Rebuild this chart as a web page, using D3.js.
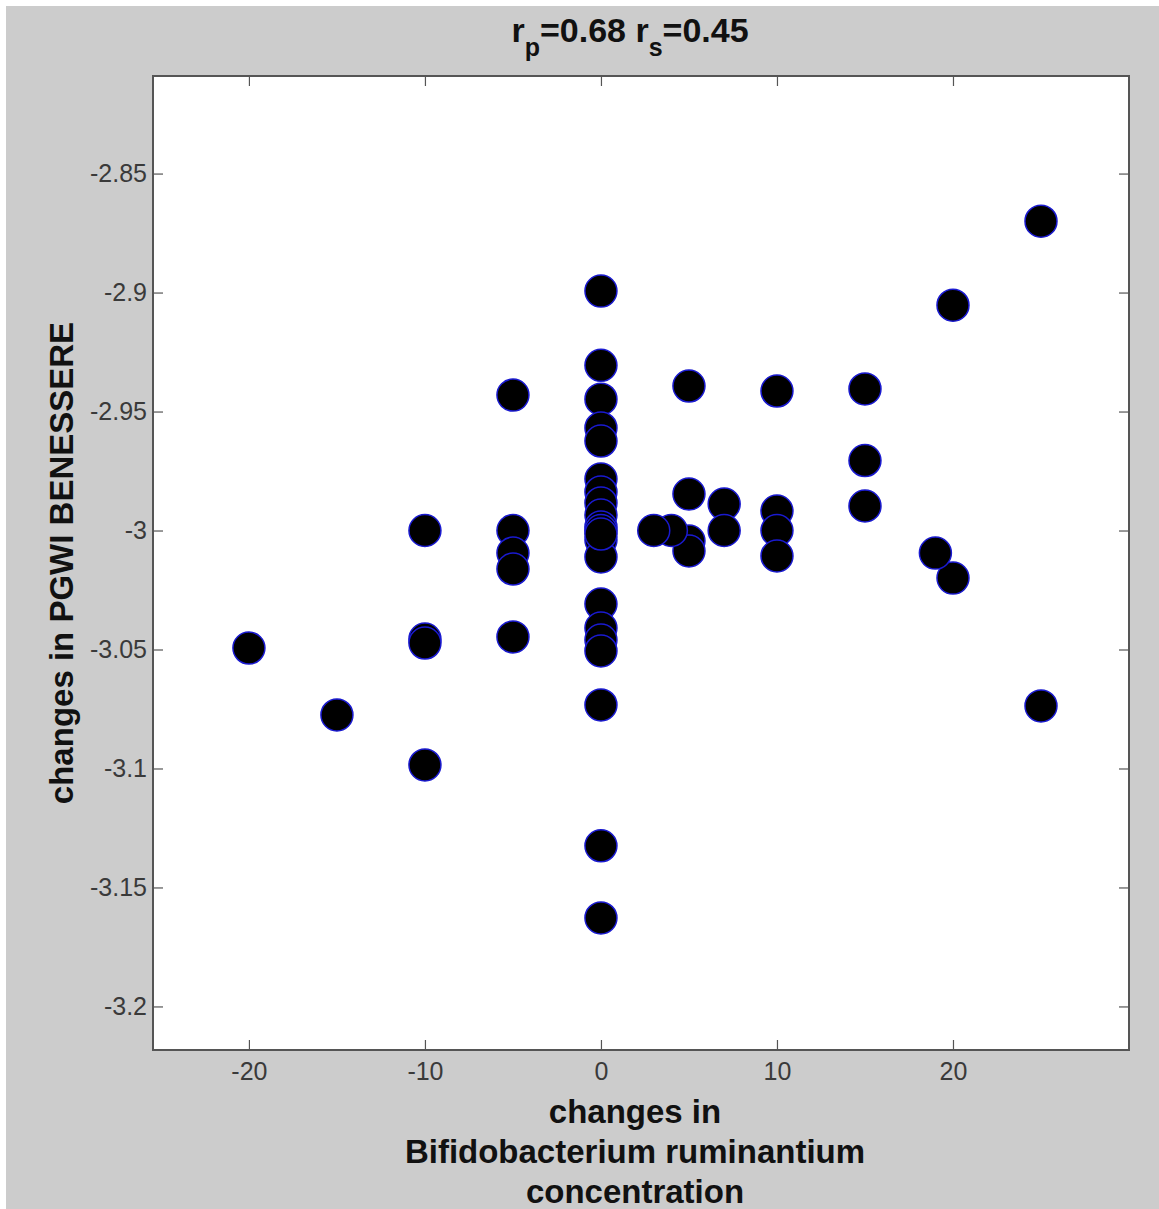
<!DOCTYPE html>
<html><head><meta charset="utf-8">
<script src="https://cdn.jsdelivr.net/npm/d3@7"></script>
<style>body{margin:0;background:#fff;} text{font-family:"Liberation Sans",Arial,sans-serif;}</style>
</head><body>
<script>
const bacteriaChange = [25,25,20,20,19,15,15,15,10,10,10,10,7,7,5,5,5,5,
  0,0,0,0,0,0,0,0,0,0,0,0,0,0,0,0,0,0,0,0,0,
  4,3,
  -5,-5,-5,-5,-5,-10,-10,-10,-10,-15,-20];
const pgwiChange = [-2.870,-3.0737,-2.9053,-3.020,-3.0095,-2.9405,-2.9706,-2.9897,-2.9414,-2.9918,-3.0,-3.0107,-2.9889,-3.0,-2.9393,-2.9847,-3.0044,-3.0086,
  -2.8994,-2.9306,-2.9448,-2.9569,-2.9624,-2.9784,-2.9838,-2.9884,-2.9935,-2.9985,-3.0,-3.004,-3.0111,-3.0309,-3.041,-3.046,-3.0506,-3.0733,-3.1325,-3.1628,-3.0015,
  -3.0,-3.0,
  -2.9431,-3.0,-3.0095,-3.0162,-3.0447,-3.0,-3.0456,-3.0473,-3.0985,-3.0775,-3.0494];
const xTicks = [-20,-10,0,10,20];
const xTickLabels = ["-20","-10","0","10","20"];
const yTicks = [-2.85,-2.9,-2.95,-3,-3.05,-3.1,-3.15,-3.2];
const yTickLabels = ["-2.85","-2.9","-2.95","-3","-3.05","-3.1","-3.15","-3.2"];
const xDomain = [-25.45, 30.0];
const yDomain = [-3.2183, -2.809];
const xLabelLines = ["changes in","Bifidobacterium ruminantium","concentration"];
const yLabel = "changes in PGWI BENESSERE";

const W=1159,H=1209;
const L=153,R=1129,T=76,B=1050;
const svg=d3.select("body").append("svg").attr("width",W).attr("height",H);
svg.append("rect").attr("x",6).attr("y",6).attr("width",W-6).attr("height",H-6).attr("fill","#cccccc");
svg.append("rect").attr("x",L).attr("y",T).attr("width",R-L).attr("height",B-T).attr("fill","#fff");

const x=d3.scaleLinear().domain(xDomain).range([L,R]);
const y=d3.scaleLinear().domain(yDomain).range([B,T]);

function styleAxis(g,showText){
  g.select(".domain").remove();
  g.selectAll(".tick line").attr("stroke","#555").attr("stroke-width",1.2);
  g.selectAll(".tick text").attr("fill","#3a3a3a").style("font-size","25px");
  if(!showText) g.selectAll(".tick text").remove();
}
svg.append("g").attr("transform",`translate(0,${B})`)
  .call(d3.axisBottom(x).tickValues(xTicks).tickFormat((d,i)=>xTickLabels[i]).tickSizeInner(-10).tickSizeOuter(0).tickPadding(12))
  .call(g=>styleAxis(g,true));
svg.append("g").attr("transform",`translate(0,${T})`)
  .call(d3.axisTop(x).tickValues(xTicks).tickSizeInner(-10).tickSizeOuter(0))
  .call(g=>styleAxis(g,false));
svg.append("g").attr("transform",`translate(${L},0)`)
  .call(d3.axisLeft(y).tickValues(yTicks).tickFormat((d,i)=>yTickLabels[i]).tickSizeInner(-10).tickSizeOuter(0).tickPadding(6))
  .call(g=>styleAxis(g,true));
svg.append("g").attr("transform",`translate(${R},0)`)
  .call(d3.axisRight(y).tickValues(yTicks).tickSizeInner(-10).tickSizeOuter(0))
  .call(g=>styleAxis(g,false));

svg.append("rect").attr("x",L).attr("y",T).attr("width",R-L).attr("height",B-T)
  .attr("fill","none").attr("stroke","#555").attr("stroke-width",2);

svg.append("g").selectAll("circle").data(bacteriaChange.map((d,i)=>[d,pgwiChange[i]]))
  .join("circle").attr("cx",d=>x(d[0])).attr("cy",d=>y(d[1])).attr("r",16)
  .attr("fill","#000").attr("stroke","#1a1ad0").attr("stroke-width",1.5);

// title
const t=svg.append("text").attr("x",630).attr("y",42).attr("text-anchor","middle")
  .style("font-size","34px").style("font-weight","bold").attr("fill","#111");
t.append("tspan").text("r");
t.append("tspan").attr("dy",14).style("font-size","25px").text("p");
t.append("tspan").attr("dy",-14).text("=0.68 r");
t.append("tspan").attr("dy",14).style("font-size","25px").text("s");
t.append("tspan").attr("dy",-14).text("=0.45");

// x label
svg.append("g").selectAll("text").data(xLabelLines).join("text")
  .attr("x",635).attr("y",(d,i)=>1123+i*40).attr("text-anchor","middle")
  .style("font-size","33px").style("font-weight","bold").attr("fill","#111").text(d=>d);
// y label
svg.append("text").attr("transform","translate(73,563) rotate(-90)").attr("text-anchor","middle")
  .style("font-size","33px").style("font-weight","bold").attr("fill","#111").text(yLabel);
</script>
</body></html>
